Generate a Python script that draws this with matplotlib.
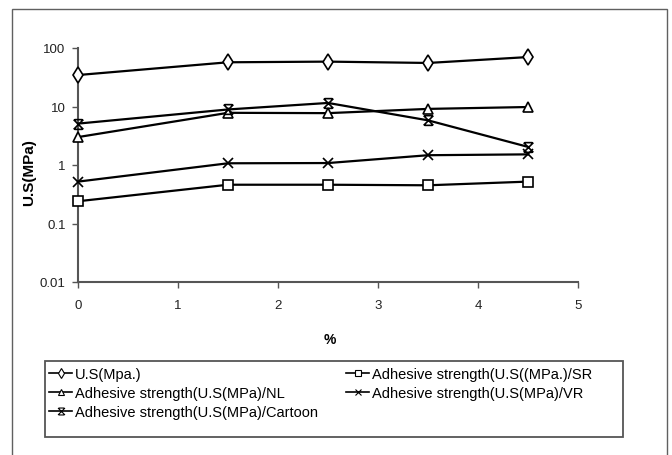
import numpy as np
import matplotlib
matplotlib.use("Agg")
import matplotlib.pyplot as plt
from matplotlib.path import Path
from matplotlib.patches import Rectangle
from matplotlib.lines import Line2D

# percentage of additive
pct = [0, 1.5, 2.5, 3.5, 4.5]

# strength values (MPa), log axis
us_mpa = [34.5, 57, 58.5, 55.5, 70]
adh_sr = [0.24, 0.46, 0.46, 0.45, 0.52]
adh_nl = [3.0, 7.8, 7.7, 9.1, 9.8]
adh_vr = [0.52, 1.07, 1.08, 1.47, 1.52]
adh_cartoon = [5.1, 8.9, 11.5, 5.8, 2.04]

labels = [
    "U.S(Mpa.)",
    "Adhesive strength(U.S((MPa.)/SR",
    "Adhesive strength(U.S(MPa)/NL",
    "Adhesive strength(U.S(MPa)/VR",
    "Adhesive strength(U.S(MPa)/Cartoon",
]

plt.rcParams["font.family"] = ["Liberation Sans", "DejaVu Sans"]

# X with short caps top and bottom
star_verts = [(-1, -1), (1, 1), (-1, 1), (1, -1),
              (-0.8, 1), (0.8, 1), (-0.8, -1), (0.8, -1)]
star_codes = [Path.MOVETO, Path.LINETO] * 4
star_marker = Path(star_verts, star_codes)

W, H = 672, 456
fig = plt.figure(figsize=(W / 100, H / 100), dpi=100)

# outer frame
fig.patches.append(Rectangle((12 / W, -0.05), 655 / W, 1.05 - 10 / H,
                             transform=fig.transFigure, fill=False,
                             edgecolor="#606060", lw=1.0))

ax = fig.add_axes([78 / W, (H - 283) / H, 500 / W, 234 / H])
ax.set_yscale("log")

lw = 1.6
kw = dict(color="black", lw=lw, markerfacecolor="white",
          markeredgecolor="black", markeredgewidth=1.2, clip_on=False,
          zorder=3)
ax.plot(pct, us_mpa, marker="d", markersize=8, **kw)
ax.plot(pct, adh_sr, marker="s", markersize=7, **kw)
ax.plot(pct, adh_nl, marker="^", markersize=7, **kw)
ax.plot(pct, adh_vr, marker="x", markersize=7, **kw)
ax.plot(pct, adh_cartoon, marker=star_marker, markersize=7, **kw)

ax.set_xlim(0, 5)
ax.set_ylim(0.01, 100)
ax.set_xticks(range(6))
ax.set_yticks([0.01, 0.1, 1, 10, 100])
ax.set_yticklabels(["0.01", "0.1", "1", "10", "100"])
ax.minorticks_off()
for s in ["top", "right"]:
    ax.spines[s].set_visible(False)
for s in ["left", "bottom"]:
    ax.spines[s].set_color("#555555")
    ax.spines[s].set_linewidth(1.5)
ax.tick_params(axis="both", direction="out", length=4, width=1,
               color="#555555", labelsize=9.5, labelcolor="#222222")
ax.tick_params(axis="x", pad=8)
ax.tick_params(axis="y", pad=5)

fig.text(29 / W, 1 - 173 / H, "U.S(MPa)", rotation=90, ha="center",
         va="center", fontsize=11, fontweight="bold")
fig.text(330 / W, 1 - 340 / H, "%", ha="center", va="center",
         fontsize=10, fontweight="bold")

# legend box
fig.patches.append(Rectangle((45 / W, 1 - 438 / H), 578 / W, 76 / H,
                             transform=fig.transFigure, fill=False,
                             edgecolor="#555555", lw=1.3))

hkw = dict(color="black", lw=1.2, markerfacecolor="white",
           markeredgecolor="black", markeredgewidth=0.8, markersize=5)
h_us = Line2D([], [], marker="d", **hkw)
h_sr = Line2D([], [], marker="s", **hkw)
h_nl = Line2D([], [], marker="^", **hkw)
h_vr = Line2D([], [], marker="x", **hkw)
h_ca = Line2D([], [], marker=star_marker, **hkw)

lkw = dict(frameon=False, loc="upper left", fontsize=10.5,
           handlelength=1.6, handletextpad=0.2, labelspacing=0.35,
           borderpad=0.2, borderaxespad=0)
fig.legend([h_us, h_nl, h_ca], [labels[0], labels[2], labels[4]],
           bbox_to_anchor=(46 / W, 1 - 365 / H), **lkw)
fig.legend([h_sr, h_vr], [labels[1], labels[3]],
           bbox_to_anchor=(343 / W, 1 - 365 / H), **lkw)

fig.savefig("out.png", dpi=100)
